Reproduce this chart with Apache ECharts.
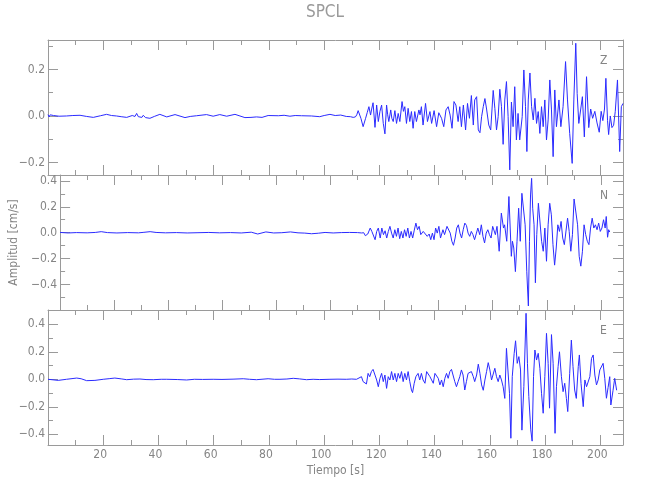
<!DOCTYPE html>
<html>
<head>
<meta charset="utf-8">
<script src="https://cdn.jsdelivr.net/npm/echarts@6/dist/echarts.min.js"></script>
<style>
html,body{margin:0;padding:0;background:#fff;}
#chart{width:650px;height:500px;}
</style>
</head>
<body>
<div id="chart"></div>
<script>
// ---- Data: [time (s), amplitude (cm/s)] ----
const traceZ = [
[0,0.006],[0.4,-0.004],[0.8,0.005],[1.3,-0.002],[2,0.002],[4,-0.001],[6.7,0.000],[9,0.002],[11.6,0.003],[14,-0.002],[16.4,-0.006],[19,0.001],[21.2,0.007],[23,0.002],[24.8,0.000],[26.5,-0.003],[28.5,-0.006],[30.5,0.002],[31.5,-0.002],[32.1,0.011],[32.7,-0.003],[33.3,0.004],[34,-0.006],[34.5,0.003],[35.3,-0.007],[36.9,-0.010],[38.5,-0.002],[40.5,0.007],[43,-0.004],[46,0.006],[49.6,-0.007],[51.5,-0.002],[53.8,0.001],[57.4,0.006],[59.8,-0.001],[62.2,0.006],[64.7,-0.001],[67.7,0.007],[69.5,0.000],[71.3,-0.007],[73.5,-0.006],[75.5,-0.004],[77.5,-0.006],[79.7,0.002],[83.4,0.001],[85.5,0.003],[87.6,-0.001],[89.5,0.002],[91.8,0.001],[95.4,0.000],[98.4,-0.003],[100,0.002],[102.1,0.007],[104,0.002],[106,0.004],[108,-0.002],[109.5,-0.003],[110.5,-0.006],[111.3,-0.004],[111.8,0.005],
[112.3,0.023],[113.3,-0.010],[114.1,-0.046],[115.0,-0.010],[115.6,0.015],[116.2,0.040],[116.8,0.004],[117.2,0.030],[117.7,0.057],[118.4,-0.049],[119.0,0.047],[119.6,-0.024],[120.2,0.020],[120.8,0.047],[121.4,-0.032],[122.0,-0.077],[122.6,0.047],[123.0,0.005],[123.4,-0.024],[124.1,0.026],[124.5,-0.010],[125.0,-0.024],[125.6,0.023],[126.2,-0.032],[126.8,0.011],[127.4,-0.024],[128.2,0.062],[128.7,0.020],[129.2,0.040],[129.8,-0.032],[130.4,0.033],[131.0,-0.024],[131.6,0.019],[132.2,-0.053],[132.8,0.019],[133.4,-0.024],[134.3,0.026],[134.7,0.005],[135.2,0.040],[135.8,-0.039],[136.7,0.054],[137.4,-0.024],[138.3,0.019],[138.9,-0.032],[139.8,0.023],[140.7,-0.046],[141.5,0.014],[142.5,-0.010],[143.3,-0.046],[144.1,0.026],[144.9,0.040],[145.6,0.004],[146.3,-0.053],[147.0,0.062],[147.7,0.047],[148.5,-0.024],[149.1,0.040],[149.7,-0.046],[150.4,0.047],[151.2,-0.060],[151.9,0.054],[152.6,-0.010],[153.3,0.088],[154.0,-0.039],[154.5,0.069],[155.2,0.083],[155.8,-0.060],[156.4,-0.072],[157.0,-0.003],[157.6,0.040],[158.2,0.075],[158.8,0.030],[159.6,-0.039],[160.3,-0.060],[161.2,0.110],[161.8,0.033],[162.4,-0.060],[163.0,-0.003],[163.6,0.115],[164.2,0.040],[164.8,-0.122],[165.4,0.069],[166.0,0.148],[166.6,-0.003],[167.2,-0.232],[167.8,0.060],[168.4,-0.046],[169.0,0.126],[169.6,-0.103],[170.2,0.011],[170.8,-0.103],[171.7,-0.003],[172.3,0.198],[172.9,0.040],[173.4,-0.153],[173.9,0.069],[174.5,0.185],[175.1,0.040],[175.7,-0.017],[176.3,0.076],[176.9,-0.032],[177.5,0.019],[178.1,-0.075],[178.7,0.040],[179.3,-0.046],[179.9,0.069],[180.5,-0.103],[181.1,-0.017],[181.7,0.155],[182.3,0.026],[182.9,-0.175],[183.5,0.112],[184.1,-0.046],[185.0,0.069],[185.7,-0.046],[186.5,0.040],[187.4,0.234],[188.1,0.069],[188.9,-0.075],[189.8,-0.204],[190.4,0.069],[191.1,0.313],[191.6,0.097],[192.2,-0.032],[192.9,-0.032],[193.5,0.083],[194.2,-0.090],[195.0,0.169],[195.8,-0.050],[196.5,0.030],[197.2,-0.010],[198.0,0.020],[198.8,-0.030],[199.6,-0.070],[200.3,0.020],[200.9,-0.020],[201.5,0.030],[202.0,0.162],[202.6,-0.020],[203.0,-0.080],[203.6,0.000],[204.2,-0.050],[204.8,-0.040],[205.4,0.020],[206.2,0.155],[207.0,-0.153],[207.6,0.040],[208.2,0.054]
];
const traceN = [
[0,0.002],[3,-0.002],[6,0.001],[10,-0.001],[13,0.002],[15.2,0.008],[17.5,0.001],[21,-0.002],[25,0.001],[29,-0.001],[31,0.003],[33.3,0.008],[35.5,0.002],[39,-0.001],[43,0.001],[47,-0.002],[51,0.000],[55,0.002],[59,-0.001],[63,0.001],[67,-0.002],[70.7,0.004],[73.1,-0.010],[76.1,0.006],[79,-0.002],[82,0.000],[85.2,0.006],[88,-0.001],[90.5,-0.003],[93,-0.008],[95.5,-0.004],[98,0.002],[101,-0.002],[104,0.001],[107,0.002],[110,0.001],[111.5,-0.002],
[112.3,0.000],[112.9,-0.023],[113.8,-0.010],[114.7,0.036],[115.3,0.010],[115.9,0.023],[116.5,-0.054],[117.1,0.010],[117.7,0.036],[118.4,-0.041],[119.0,0.036],[119.6,-0.015],[120.2,0.015],[120.8,-0.041],[121.4,0.010],[122.0,0.049],[122.6,-0.003],[123.2,-0.041],[123.8,0.023],[124.4,-0.028],[125.0,0.036],[125.6,-0.046],[126.2,0.010],[126.8,-0.041],[127.4,0.023],[128.0,-0.028],[128.6,0.036],[129.2,-0.041],[129.8,0.010],[130.4,-0.041],[131.0,0.020],[131.6,0.074],[132.2,0.023],[132.8,0.049],[133.4,-0.015],[134.3,0.010],[135.0,0.023],[135.8,-0.028],[136.5,-0.010],[137.1,-0.054],[137.7,-0.003],[138.3,-0.054],[138.9,0.036],[139.5,-0.003],[140.1,0.049],[140.7,-0.041],[141.6,0.023],[142.2,-0.015],[143.1,0.049],[143.7,0.041],[144.3,-0.003],[144.9,-0.066],[145.5,-0.097],[146.1,-0.041],[146.7,0.036],[147.3,0.061],[147.9,-0.003],[148.5,-0.041],[149.1,0.023],[149.7,0.074],[150.3,0.056],[150.9,-0.003],[151.5,-0.028],[152.1,0.010],[152.7,-0.015],[153.3,-0.054],[154.0,-0.003],[154.5,0.036],[155.2,-0.015],[155.8,0.061],[156.4,-0.028],[157.0,-0.079],[157.6,-0.003],[158.2,0.023],[158.8,-0.015],[159.4,-0.041],[160.0,0.049],[160.6,0.061],[161.0,-0.015],[161.6,0.049],[162.4,-0.143],[163.2,0.151],[164.0,0.036],[164.4,0.061],[165.2,-0.066],[166.0,0.279],[166.9,-0.182],[167.3,-0.066],[167.8,-0.118],[168.4,-0.300],[169.0,-0.066],[169.6,0.189],[170.2,-0.066],[170.8,0.304],[171.4,0.295],[172.0,0.061],[172.6,-0.297],[173.2,-0.565],[173.6,-0.066],[174.0,0.291],[174.4,0.419],[174.8,0.189],[175.3,0.061],[175.8,-0.386],[176.3,-0.015],[176.9,0.227],[177.5,0.230],[178.1,-0.066],[178.7,-0.143],[179.3,0.036],[179.9,-0.220],[180.5,0.061],[181.1,0.227],[181.7,0.138],[182.3,-0.092],[182.9,-0.250],[183.5,-0.118],[184.1,0.061],[184.7,0.010],[185.3,0.087],[185.9,-0.041],[186.5,-0.092],[187.1,-0.105],[187.7,0.112],[188.3,0.010],[188.9,-0.143],[189.5,-0.015],[190.1,0.260],[190.7,0.253],[191.4,0.061],[192.0,-0.182],[192.6,-0.258],[193.2,-0.143],[193.8,0.061],[194.4,-0.015],[195.0,-0.066],[195.6,-0.092],[196.2,0.036],[196.8,0.112],[197.4,0.036],[198.0,0.061],[198.6,0.023],[199.2,0.074],[199.8,0.010],[200.4,0.036],[201.0,0.100],[201.6,0.036],[202.0,0.125],[202.5,-0.035],[202.9,0.023],[203.3,0.005]
];
const traceE = [
[0,0.000],[0.7,0.000],[3.7,-0.008],[6.7,0.000],[10.4,0.009],[12,0.004],[14,-0.010],[17,-0.008],[20,0.000],[22.4,0.005],[24.2,0.009],[26.5,0.003],[28.5,-0.003],[31,0.001],[33.3,0.002],[35.5,-0.002],[38.1,-0.003],[41,0.000],[43,0.000],[47,-0.002],[50.2,-0.005],[53,0.000],[56,-0.001],[59.8,0.000],[63,-0.001],[67,0.001],[70.7,0.004],[73,0.000],[75.5,-0.003],[79.7,0.004],[82,0.000],[84,0.000],[86.5,0.002],[88.8,0.007],[91,0.003],[93.6,-0.003],[96,0.000],[98.4,-0.002],[102.1,0.000],[105,0.001],[108,0.000],[110,0.002],[111.7,0.000],
[112.3,0.007],[113.5,0.019],[114.1,-0.017],[114.7,-0.005],[115.3,-0.034],[115.9,0.043],[116.5,0.019],[117.1,0.056],[117.7,0.072],[118.4,0.031],[119.0,-0.005],[119.6,-0.054],[120.2,0.007],[120.8,0.043],[121.4,-0.017],[122.0,0.031],[122.6,-0.066],[123.2,0.019],[123.8,-0.005],[124.4,0.056],[125.0,-0.005],[125.6,0.043],[126.2,-0.017],[126.8,0.043],[127.4,0.007],[128.0,0.056],[128.6,-0.017],[129.2,0.043],[129.8,-0.005],[130.4,0.056],[131.0,-0.017],[131.6,-0.078],[132.0,-0.097],[132.6,-0.029],[133.2,0.019],[134.0,0.043],[134.6,-0.005],[135.2,0.043],[135.8,-0.005],[136.5,-0.029],[137.1,0.056],[137.7,0.043],[138.3,0.019],[138.9,0.031],[139.5,-0.029],[140.1,0.043],[140.7,0.056],[141.3,0.007],[141.9,-0.041],[142.5,-0.005],[143.1,-0.054],[143.7,0.007],[144.3,0.043],[144.9,0.007],[145.5,0.056],[146.1,0.072],[146.7,0.068],[147.3,-0.017],[147.9,-0.054],[148.5,-0.017],[149.1,0.019],[149.7,0.068],[150.3,0.031],[150.9,-0.078],[151.5,-0.017],[152.1,0.043],[152.7,0.056],[153.3,0.056],[154.0,0.019],[154.5,-0.017],[155.2,0.031],[155.8,0.110],[156.4,0.043],[157.0,-0.041],[157.6,-0.080],[158.2,-0.005],[158.8,0.056],[159.4,0.121],[160.0,0.068],[160.6,-0.005],[161.2,0.007],[161.8,0.080],[162.4,0.019],[163.0,-0.017],[163.6,0.031],[164.2,-0.005],[164.8,-0.054],[165.4,-0.139],[166.0,0.225],[166.6,0.213],[167.1,-0.102],[167.6,-0.429],[168.1,0.019],[168.8,0.189],[169.3,0.280],[169.9,0.116],[170.5,0.165],[171.1,0.068],[171.6,-0.370],[172.3,-0.054],[172.7,0.213],[173.1,0.480],[173.6,0.116],[174.1,-0.126],[174.8,-0.368],[175.3,-0.450],[175.8,0.019],[176.3,0.213],[176.9,0.140],[177.5,0.189],[178.1,0.080],[178.7,-0.102],[179.3,-0.247],[179.9,0.019],[180.5,0.334],[181.1,0.116],[181.6,-0.210],[182.3,0.325],[182.9,0.116],[183.6,-0.393],[184.1,-0.054],[184.7,0.092],[185.2,0.200],[185.9,0.019],[186.5,-0.090],[187.1,-0.029],[187.7,-0.139],[188.2,-0.235],[188.9,0.043],[189.5,0.285],[190.1,0.092],[190.7,-0.078],[191.3,-0.139],[192.0,0.092],[192.4,0.177],[193.0,-0.030],[193.8,-0.199],[194.4,-0.005],[195.0,-0.054],[195.6,-0.066],[196.2,0.019],[196.8,0.152],[197.4,0.177],[198.0,0.031],[198.6,-0.041],[199.2,-0.005],[199.8,0.068],[200.4,0.056],[201.0,0.116],[201.6,0.007],[202.2,-0.138],[202.8,-0.060],[203.4,0.019],[203.8,-0.187],[204.6,-0.080],[205.2,0.007],[205.9,-0.080]
];

const componentNames = ['Z', 'N', 'E'];
const yRanges = [[-0.254, 0.327], [-0.596, 0.445], [-0.478, 0.504]];
const yMajorTicks = [[-0.2, 0, 0.2], [-0.4, -0.2, 0, 0.2, 0.4], [-0.4, -0.2, 0, 0.2, 0.4]];
const yMinorTicks = [[-0.1, 0.1, 0.3], [-0.5, -0.3, -0.1, 0.1, 0.3], [-0.3, -0.1, 0.1, 0.3]];
const xMajorTicks = [20, 40, 60, 80, 100, 120, 140, 160, 180, 200];
const xMinorTicks = [10, 30, 50, 70, 90, 110, 130, 150, 170, 190];
const xRange = [0, 208.2];
const titleText = 'SPCL';
const xName = 'Tiempo [s]';
const yName = 'Amplitud [cm/s]';

// ---- Chart ----
const FONT = "'Liberation Sans Narrow','DejaVu Sans Condensed','Liberation Sans',sans-serif";
const LINE = '#9a9a9a';
const TEXT = '#858585';
const traces = [traceZ, traceN, traceE];
const tops = [40, 175, 310];
const H = 135, L = 48, W = 575;

const grids = [], xAxes = [], yAxes = [], series = [], graphics = [];
const fmtY = v => Math.abs(v) < 1e-9 ? '0.0' : (v < 0 ? '\u2212' : '') + Math.abs(v).toFixed(1);

tops.forEach((top, i) => {
  grids.push({left: L, top: top, width: W, height: H});
  const last = i === 2;
  [['bottom', xMajorTicks, 10, true], ['bottom', xMinorTicks, 5, false],
   ['top', xMajorTicks, 10, true], ['top', xMinorTicks, 5, false]].forEach(([pos, vals, len, line], k) => {
    xAxes.push({
      gridIndex: i, type: 'value', min: xRange[0], max: xRange[1], position: pos,
      axisLine: {show: line, onZero: false, lineStyle: {color: LINE, width: 1}},
      axisTick: {show: true, inside: true, length: len, customValues: vals, lineStyle: {color: LINE}},
      axisLabel: (last && k === 0) ? {show: true, customValues: xMajorTicks, color: TEXT, fontSize: 12,
        fontFamily: FONT, margin: 4, padding: [0, 6, 0, 0], formatter: v => String(v)} : {show: false},
      splitLine: {show: false},
      name: (last && k === 0) ? xName : '', nameLocation: 'middle', nameGap: 20,
      nameTextStyle: {color: TEXT, fontSize: 12, fontFamily: FONT}
    });
  });
  [['left', yMajorTicks[i], 10, true], ['left', yMinorTicks[i], 5, false],
   ['right', yMajorTicks[i], 10, true], ['right', yMinorTicks[i], 5, false]].forEach(([pos, vals, len, line], k) => {
    yAxes.push({
      gridIndex: i, type: 'value', min: yRanges[i][0], max: yRanges[i][1], position: pos,
      axisLine: {show: line, onZero: false, lineStyle: {color: LINE, width: 1}},
      axisTick: {show: true, inside: true, length: len, customValues: vals, lineStyle: {color: LINE}},
      axisLabel: k === 0 ? {show: true, customValues: yMajorTicks[i], color: TEXT, fontSize: 12,
        fontFamily: FONT, margin: 3, formatter: fmtY} : {show: false},
      splitLine: {show: false},
      name: (i === 1 && k === 0) ? yName : '', nameLocation: 'middle', nameGap: 26, nameRotate: 90,
      nameTextStyle: {color: TEXT, fontSize: 12, fontFamily: FONT}
    });
  });
  series.push({
    type: 'line', xAxisIndex: 4 * i, yAxisIndex: 4 * i, data: traces[i],
    showSymbol: false, symbol: 'none', silent: true, clip: true,
    lineStyle: {color: '#2b2bff', width: 1}
  });
  graphics.push({type: 'text', left: 600, top: top + 15,
    style: {text: componentNames[i], fill: TEXT, fontSize: 12, fontFamily: FONT}});
});

graphics.push({type: 'text', left: 'center', top: 4,
  style: {text: titleText, fill: '#9a9a9a', fontSize: 17, fontFamily: FONT}});

const chart = echarts.init(document.getElementById('chart'), null, {renderer: 'canvas'});
chart.setOption({
  animation: false,
  backgroundColor: '#ffffff',
  grid: grids, xAxis: xAxes, yAxis: yAxes, series: series, graphic: graphics
});
</script>
</body>
</html>
